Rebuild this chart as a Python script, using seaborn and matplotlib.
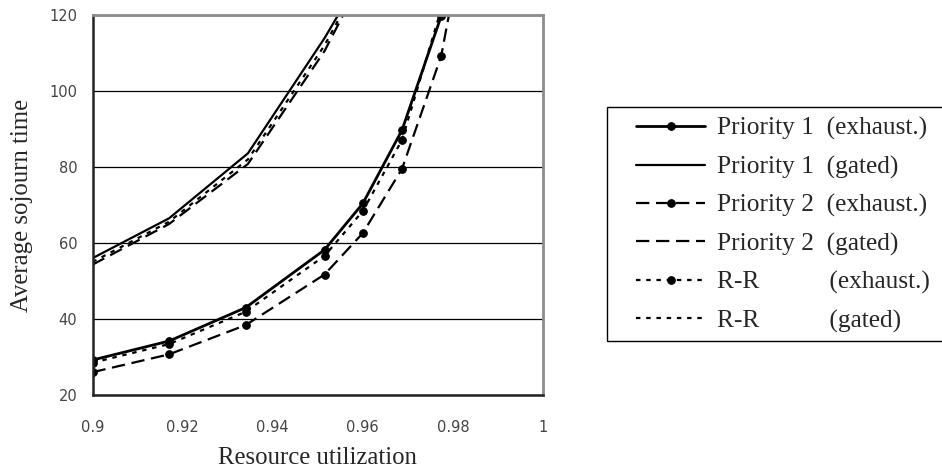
import numpy as np
import pandas as pd
import matplotlib
matplotlib.use("Agg")
import matplotlib.pyplot as plt
import seaborn as sns
from matplotlib.legend_handler import HandlerLine2D
from matplotlib.patches import Rectangle

# ---- data ----
x_exhaust = [0.900, 0.917, 0.934, 0.9515, 0.960, 0.9687, 0.9774, 0.985]
p1_exhaust = [29.2, 34.2, 43.0, 58.2, 70.4, 89.7, 119.7, 165.0]
p2_exhaust = [26.0, 30.7, 38.4, 51.7, 62.6, 79.5, 109.2, 157.0]
rr_exhaust = [28.5, 33.4, 41.9, 56.6, 68.4, 87.1, 121.5, 165.0]

x_gated = [0.900, 0.917, 0.9345, 0.9515, 0.960]
p1_gated = [56.0, 66.5, 83.6, 113.9, 131.0]
p2_gated = [54.3, 65.0, 80.8, 110.5, 130.0]
rr_gated = [55.0, 65.6, 82.0, 112.0, 130.5]

labels = ["Priority 1  (exhaust.)", "Priority 1  (gated)",
          "Priority 2  (exhaust.)", "Priority 2  (gated)",
          "R-R           (exhaust.)", "R-R           (gated)"]
x_ticks = [0.9, 0.92, 0.94, 0.96, 0.98, 1.0]
x_ticklabels = ["0.9", "0.92", "0.94", "0.96", "0.98", "1"]
y_ticks = [20, 40, 60, 80, 100, 120]

sns.set_style("white")
plt.rcParams["font.family"] = ["Liberation Serif", "DejaVu Serif"]

fig = plt.figure(figsize=(9.42, 4.72), dpi=100)
ax = fig.add_axes([92.5 / 942, 1 - 395 / 472, (543 - 92.5) / 942, (395 - 15) / 472])

dash = (0, (6, 3))
dot = (0, (2, 2.6))

series = [
    (x_exhaust, p1_exhaust, "-", "o", 2.0),
    (x_gated, p1_gated, "-", None, 1.6),
    (x_exhaust, p2_exhaust, dash, "o", 1.6),
    (x_gated, p2_gated, dash, None, 1.6),
    (x_exhaust, rr_exhaust, dot, "o", 1.6),
    (x_gated, rr_gated, dot, None, 1.6),
]
for (xs, ys, ls, mk, lw), lab in zip(series, labels):
    df = pd.DataFrame({"x": xs, "y": ys})
    kw = dict(marker=mk, markersize=5.5, markerfacecolor="black",
              markeredgecolor="black") if mk else dict(marker=None)
    sns.lineplot(data=df, x="x", y="y", ax=ax, color="black", linestyle=ls,
                 linewidth=lw, label=lab, sort=False, estimator=None, **kw)

ax.set_xlim(0.9, 1.0)
ax.set_ylim(20, 120)
ax.set_xticks(x_ticks)
ax.set_xticklabels(x_ticklabels)
ax.set_yticks(y_ticks)
ax.yaxis.grid(True, color="black", linewidth=0.9)
ax.xaxis.grid(False)
ax.tick_params(axis="x", direction="in", length=5, width=1.2, color="#222222",
               pad=18, labelsize=10.5, labelcolor="#444444")
ax.tick_params(axis="y", length=0, pad=11, labelsize=10.5, labelcolor="#444444")
for t in ax.get_xticklabels() + ax.get_yticklabels():
    t.set_fontfamily(["DejaVu Sans"])

for side in ["left", "bottom"]:
    ax.spines[side].set_color("#222222")
    ax.spines[side].set_linewidth(1.8)
for side in ["top", "right"]:
    ax.spines[side].set_color("#8c8c8c")
    ax.spines[side].set_linewidth(2.0)

ax.set_xlabel("Resource utilization", fontsize=17.8, labelpad=9)
ax.set_ylabel("Average sojourn time", fontsize=17.8, labelpad=12)

handles, labs = ax.get_legend_handles_labels()
fs = 18.3
leg = ax.legend(handles, labs, loc="upper left",
                bbox_to_anchor=(607 / 942, 1 - 106 / 472),
                bbox_transform=fig.transFigure, borderaxespad=0,
                fontsize=fs, frameon=False, borderpad=0.44, labelspacing=0.6,
                handlelength=3.42, handletextpad=0.45, numpoints=1,
                handler_map={h: HandlerLine2D(xpad=0.7, numpoints=1) for h in handles})

# legend frame (extends past the right edge of the picture, as in the reference)
fig.patches.append(Rectangle((607 / 942, 1 - 341 / 472), (960 - 607) / 942, (341 - 107) / 472,
                             transform=fig.transFigure, fill=False,
                             edgecolor="black", linewidth=1.0, zorder=5))

fig.savefig("out.png", dpi=100)
